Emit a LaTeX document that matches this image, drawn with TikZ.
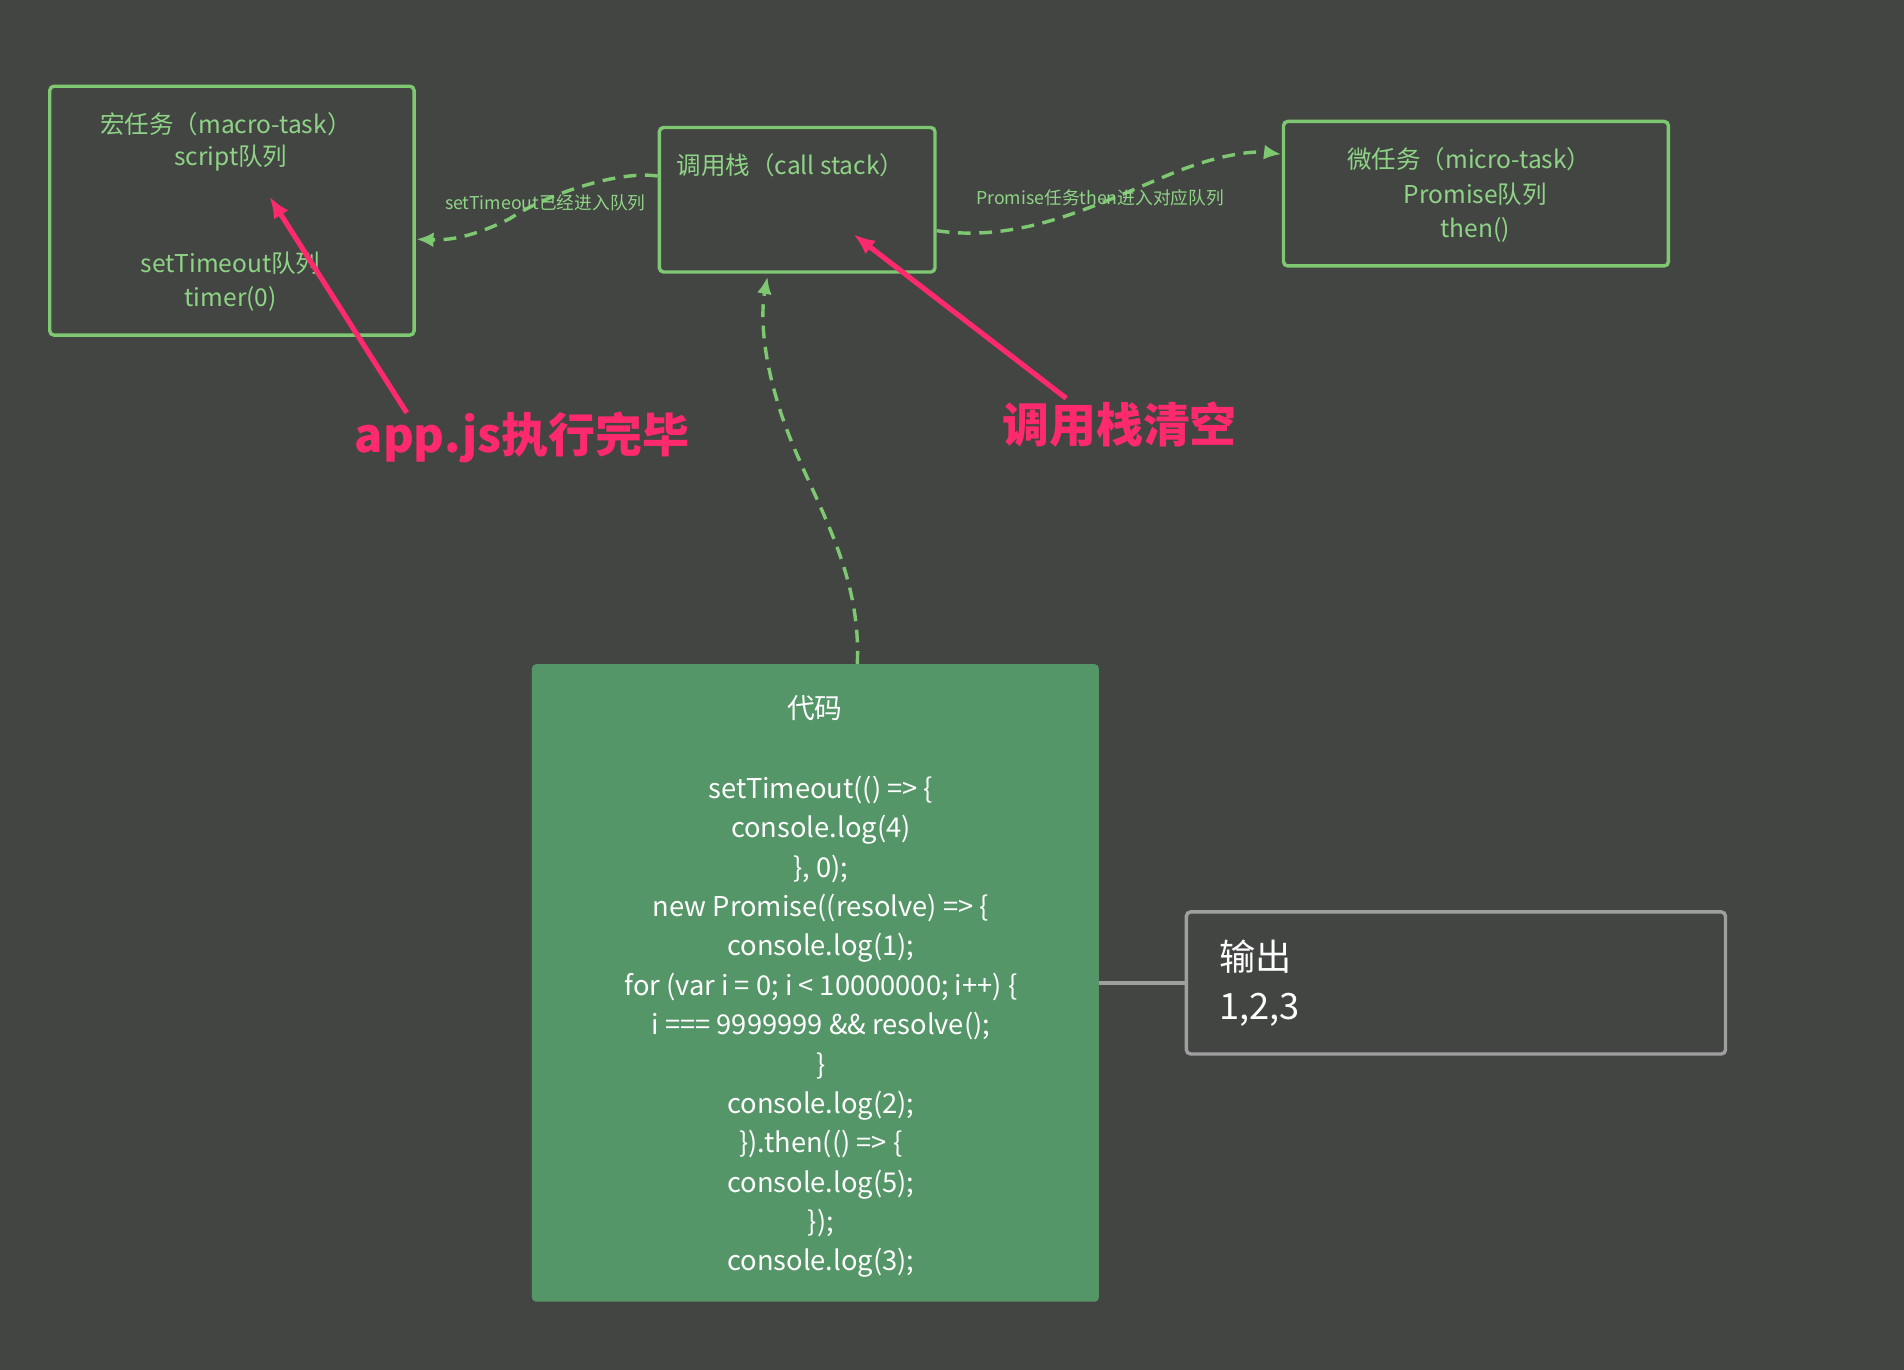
\documentclass[tikz,border=0pt]{standalone}
\usepackage{fontspec}
\setmainfont{Noto Sans CJK SC}
\usetikzlibrary{arrows.meta}
\definecolor{bgdark}{HTML}{434543}
\definecolor{lgreen}{HTML}{7DC870}
\definecolor{tgreen}{HTML}{8FD486}
\definecolor{codegreen}{HTML}{559668}
\definecolor{pinkred}{HTML}{FF2A6D}
\tikzset{
    box/.style={
           rectangle,
           rounded corners=2pt,
           draw=lgreen, line width=1.6pt,
           inner sep=0pt,
           },
    boxtext/.style={
           text=tgreen, font=\fontsize{11.5}{14}\selectfont,
           align=center,
           },
    steplabel/.style={
           text=tgreen, font=\fontsize{8.3}{10}\selectfont,
           },
    flow/.style={
           -{Latex[length=8pt,width=7pt]}, dashed, dash pattern=on 6pt off 4pt,
           lgreen, line width=1.6pt,
           },
    pointer/.style={
           -{Latex[length=10pt,width=8pt]}, pinkred, line width=2.4pt,
           },
    shout/.style={
           text=pinkred, font=\bfseries\fontsize{22}{26}\selectfont,
           },
}
\begin{document}
\begin{tikzpicture}[x=0.02cm,y=-0.02cm]
	\fill[bgdark] (0,0) rectangle (1568,1128);
	\useasboundingbox (0,0) rectangle (1568,1128);
	
	\node[box, minimum width=300*0.02cm, minimum height=205*0.02cm] (macro) at (191,173.5) {};
	\node[boxtext] (macro1) at (186,102) {宏任务（macro-task）};
	\node[boxtext] (macro2) at (190,130) {script队列};
	\node[boxtext] (macro3) at (190,217) {setTimeout队列};
	\node[boxtext] (macro4) at (190,246) {timer(0)};
	
	\node[box, minimum width=227*0.02cm, minimum height=119*0.02cm] (stack) at (656.5,164.5) {};
	\node[boxtext] (stack1) at (651,136) {调用栈（call stack）};
	
	\node[box, minimum width=317*0.02cm, minimum height=119*0.02cm] (micro) at (1215.5,159.5) {};
	\node[boxtext] (micro1) at (1210,131) {微任务（micro-task）};
	\node[boxtext] (micro2) at (1215,160) {Promise队列};
	\node[boxtext] (micro3) at (1215,189) {then()};
	
	\node[fill=codegreen, rounded corners=2pt, minimum width=467*0.02cm, minimum height=525*0.02cm] (code) at (671.5,809.5) {};
	\node[text=white, font=\fontsize{13}{15}\selectfont] (codetitle) at (671,583) {代码};
	\node[text=white, font=\fontsize{12.8}{18.45}\selectfont, align=center, anchor=north] (codebody) at (676,633) {%
		setTimeout(() => \{\\
		console.log(4)\\
		\}, 0);\\
		new Promise((resolve) => \{\\
		console.log(1);\\
		for (var i = 0; i < 10000000; i++) \{\\
		i === 9999999 \&\& resolve();\\
		\}\\
		console.log(2);\\
		\}).then(() => \{\\
		console.log(5);\\
		\});\\
		console.log(3);};
	
	\node[draw=gray!75, line width=1.6pt, rounded corners=2pt, minimum width=444*0.02cm, minimum height=117*0.02cm] (output) at (1199,809.5) {};
	\node[text=white, font=\fontsize{17}{23}\selectfont, align=left, anchor=west] (outtext) at (998,810) {输出\\1,2,3};
	
	%EDGES
	\draw[gray!75, line width=1.6pt] (code.east) -- (output.west);
	
	\draw[flow] (stack.west |- 0,145) .. controls (510,140) and (450,160) .. (420,180) .. controls (390,195) and (370,198) .. (343,197);
	\node[steplabel] (lbl1) at (449,167) {setTimeout已经进入队列};
	\draw[flow] (stack.east |- 0,190) .. controls (840,200) and (900,170) .. (960,145) .. controls (1000,128) and (1030,124) .. (1055,127);
	\node[steplabel] (lbl2) at (906,163) {Promise任务then进入对应队列};
	\draw[flow] (code.north -| 706,0) .. controls (710,460) and (660,400) .. (640,330) .. controls (625,280) and (628,250) .. (632,228);
	
	\draw[pointer] (335,340) -- (222,162);
	\draw[pointer] (878,328) -- (703,193);
	\node[shout] (done) at (430,360) {app.js执行完毕};
	\node[shout] (clear) at (922,350) {调用栈清空};
\end{tikzpicture}
\end{document}
